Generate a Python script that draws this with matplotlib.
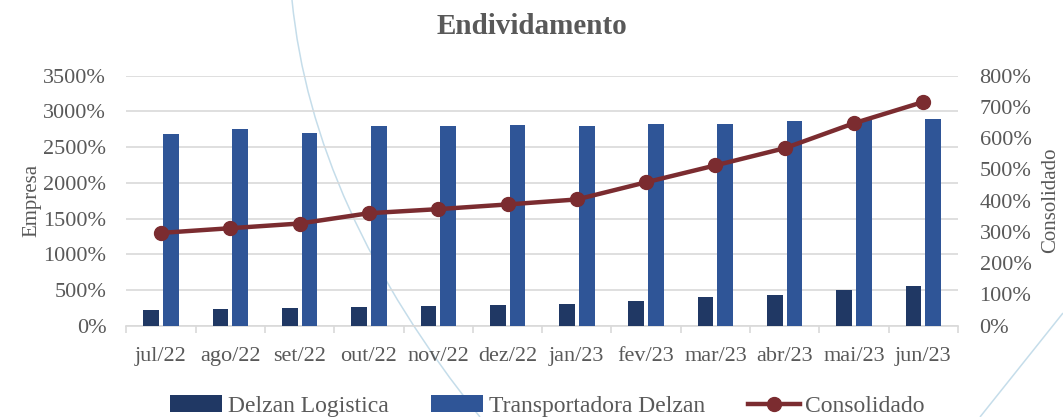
import matplotlib
matplotlib.use("Agg")
import matplotlib.pyplot as plt
import numpy as np
from matplotlib.path import Path
from matplotlib.patches import PathPatch
from matplotlib.ticker import FixedLocator, FuncFormatter

categories = ["jul/22", "ago/22", "set/22", "out/22", "nov/22", "dez/22",
              "jan/23", "fev/23", "mar/23", "abr/23", "mai/23", "jun/23"]
delzan_logistica = [220, 234, 248, 266, 276, 290, 304, 346, 397, 434, 500, 556]
transportadora = [2680, 2758, 2698, 2796, 2800, 2814, 2796, 2824, 2824, 2861, 2880, 2894]
consolidado = [297, 312, 327, 360, 373, 388, 404, 459, 513, 568, 648, 716]
left_ticks = [0, 500, 1000, 1500, 2000, 2500, 3000, 3500]
right_ticks = [0, 100, 200, 300, 400, 500, 600, 700, 800]

plt.rcParams['font.family'] = ['Liberation Serif', 'DejaVu Serif']
TXT = '#595959'
FS = 16

fig = plt.figure(figsize=(10.63, 4.17), dpi=100)
ax = fig.add_axes([0.1189, 0.2189, 0.7823, 0.5996])
ax2 = ax.twinx()
ax.set_facecolor('none')
ax2.set_facecolor('none')

x = np.arange(len(categories))
w = 0.227
ax.bar(x - 0.142, delzan_logistica, w, color='#203864', label='Delzan Logistica', zorder=3)
ax.bar(x + 0.142, transportadora, w, color='#2F5597', label='Transportadora Delzan', zorder=3)
ax2.plot(x, consolidado, color='#7B2C30', lw=3.2, marker='o', ms=10, label='Consolidado', zorder=4)

ax.set_xlim(-0.5, len(categories) - 0.5)
ax.set_ylim(0, 3500)
ax2.set_ylim(0, 800)
ax.yaxis.set_major_locator(FixedLocator(left_ticks))
ax2.yaxis.set_major_locator(FixedLocator(right_ticks))
pct = FuncFormatter(lambda v, p: f"{v:.0f}%")
ax.yaxis.set_major_formatter(pct)
ax2.yaxis.set_major_formatter(pct)
ax.grid(axis='y', color='#D9D9D9', lw=1.2, zorder=0)
ax.set_axisbelow(True)

ax.set_xticks(x)
ax.set_xticklabels(categories)
ax.set_xticks(np.arange(-0.5, len(categories), 1), minor=True)
ax.tick_params(axis='x', which='major', length=0, pad=15, labelsize=FS, colors=TXT)
ax.tick_params(axis='x', which='minor', length=5, color='#D9D9D9', width=1.2)
ax.tick_params(axis='y', length=0, labelsize=FS, colors=TXT, pad=14.5)
ax2.tick_params(axis='y', length=0, labelsize=FS, colors=TXT, pad=15.5)
for a in (ax, ax2):
    for s in ['top', 'left', 'right', 'bottom']:
        a.spines[s].set_visible(False)
ax.spines['bottom'].set_visible(True)
ax.spines['bottom'].set_color('#D9D9D9')
ax.spines['bottom'].set_linewidth(1.2)

ax.set_ylabel('Empresa', fontsize=15, color=TXT, labelpad=1)
ax2.set_ylabel('Consolidado', fontsize=15, color=TXT, labelpad=7)
fig.text(0.5, 1 - 27 / 417, 'Endividamento', ha='center', va='center', fontsize=21,
         fontweight='bold', color=TXT)

h1, l1 = ax.get_legend_handles_labels()
h2, l2 = ax2.get_legend_handles_labels()
fig.legend(h1 + h2, l1 + l2, loc='center', bbox_to_anchor=(0.515, 0.026), ncol=3,
           frameon=False, fontsize=17, labelcolor=TXT, handlelength=2.2,
           handletextpad=0.25, columnspacing=1.8)

# faint decorative arcs (background ornament)
def curve(pts, codes):
    P = [(px / 1063, 1 - py / 417) for px, py in pts]
    fig.add_artist(PathPatch(Path(P, codes), transform=fig.transFigure,
                             fc='none', ec='#C5DDEA', lw=1.1, zorder=-1))
curve([(292, 0), (312.4, 208.5), (480, 417)], [Path.MOVETO, Path.CURVE3, Path.CURVE3])
curve([(1063, 313), (980, 417)], [Path.MOVETO, Path.LINETO])

fig.savefig('out.png', dpi=100)
